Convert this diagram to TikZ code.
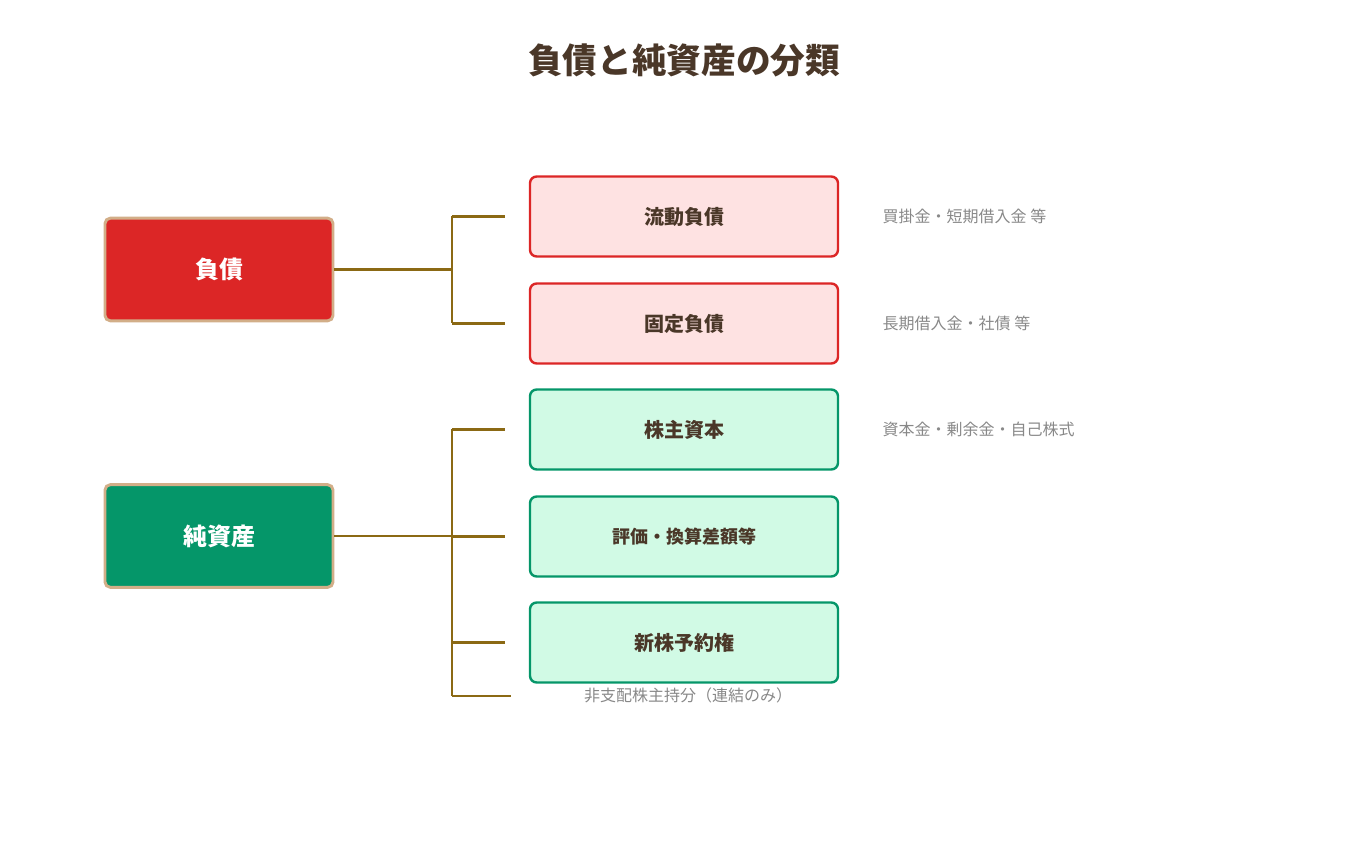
\documentclass[tikz,border=0pt]{standalone}
\usepackage{fontspec}
\setmainfont{Noto Sans CJK JP}
\usetikzlibrary{positioning}
\definecolor{ink}{HTML}{4A3728}
\definecolor{debtred}{HTML}{DC2626}
\definecolor{debtpale}{HTML}{FEE2E2}
\definecolor{eqgreen}{HTML}{059669}
\definecolor{eqpale}{HTML}{D1FAE5}
\definecolor{tan}{HTML}{D2AE88}
\definecolor{branch}{HTML}{8B6914}
\definecolor{note}{HTML}{888888}
\tikzset{
  mainbox/.style={draw=tan,line width=2.2pt,rounded corners=4pt,minimum width=171pt,minimum height=77pt,text=white,font=\bfseries\fontsize{18}{20}\selectfont},
  redsub/.style={draw=debtred,fill=debtpale,line width=1.8pt,rounded corners=5pt,minimum width=231pt,minimum height=60pt,text=ink,font=\bfseries\fontsize{15}{18}\selectfont},
  greensub/.style={redsub,draw=eqgreen,fill=eqpale},
  notetext/.style={anchor=west,text=note,font=\fontsize{12}{14}\selectfont},
  link/.style={draw=branch,line width=2.2pt}
}
\begin{document}
\begin{tikzpicture}[x=0.75pt,y=0.75pt,yscale=-1]
\useasboundingbox (0,0) rectangle (1368,848);

% title
\node (title) at (684,60) {\textcolor{ink}{\bfseries\fontsize{26}{30}\selectfont 負債と純資産の分類}};

% main boxes
\node[mainbox,fill=debtred] (debt) at (219,269.5) {負債};
\node[mainbox,fill=eqgreen] (equity) at (219,536) {純資産};

% sub boxes
\node[redsub] (current) at (684,216.5) {流動負債};
\node[redsub] (fixed) at (684,323.5) {固定負債};
\node[greensub] (capital) at (684,429.5) {株主資本};
\node[greensub,font=\bfseries\fontsize{13.5}{16}\selectfont] (valuation) at (684,536.5) {評価・換算差額等};
\node[greensub] (warrant) at (684,642.5) {新株予約権};
\node[text=note,font=\fontsize{12}{14}\selectfont] (minority) at (688,695) {非支配株主持分（連結のみ）};

% notes
\node[notetext] (n1) at (878,216) {買掛金・短期借入金 等};
\node[notetext] (n2) at (878,323) {長期借入金・社債 等};
\node[notetext] (n3) at (878,429) {資本金・剰余金・自己株式};

% branches
\coordinate (dj) at (452,269.5);
\coordinate (ej) at (452,536);
\draw[link] (debt.east) -- (dj);
\draw[link] (dj |- current) -- (dj |- fixed);
\foreach \t in {current,fixed}
  \draw[link] (dj |- \t) -- ([xshift=-18]\t.west);
\draw[link] (equity.east) -- (ej);
\draw[link] (ej |- capital) -- (452,696);
\foreach \t in {capital,valuation,warrant}
  \draw[link] (ej |- \t) -- ([xshift=-18]\t.west);
\draw[link] (452,696) -- (511,696);
\end{tikzpicture}
\end{document}
